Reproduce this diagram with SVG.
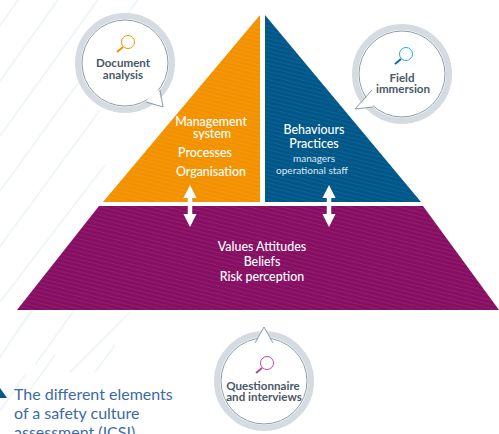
<svg xmlns="http://www.w3.org/2000/svg" width="499" height="434" viewBox="0 0 499 434">
<style>
text{font-family:"Lato","Open Sans","Liberation Sans",sans-serif;text-anchor:middle}
.w{fill:#fff;font-size:12.4px;font-weight:500}
.l{fill:#4a5866;font-size:11.6px;font-weight:700}
.ring{fill:none;stroke:#d5dbe0;stroke-width:6}
.bub{fill:#fff;stroke:#8b9ca6;stroke-width:1}
.bg{stroke:#f0f6f8;stroke-width:2;fill:none}
.arr{fill:none;stroke:#fff;stroke-width:4.5}
.ln{fill:none;stroke:#8b9ca6;stroke-width:1}
.cap{fill:#3c6aa5;font-size:16px;text-anchor:start}
.sub{fill:#dfe8ef;font-size:10px}
</style>
<defs>
<pattern id="h" width="8" height="4" patternUnits="userSpaceOnUse" patternTransform="rotate(14)"><rect width="8" height="1" fill="#fff" fill-opacity=".06"/></pattern>
<marker id="a" markerWidth="3.2" markerHeight="3" refX="1.2" refY="1.5" orient="auto-start-reverse"><path d="M0 0L3 1.5L0 3Z" fill="#fff"/></marker>
</defs>
<g class="bg">
<path d="M-10 40L25 -10M-10 95L65 -10M-10 150L105 -10M-10 205L145 -10M-10 260L100 110M-10 315L105 165M8 345L100 215M35 365L110 260M70 372L130 312M-10 372L30 312"/>
<path d="M-10 425L25 375M30 390L55 355M95 372L115 345"/>
</g>
<g id="orange"><path d="M260 15V202H103Z" fill="#f39200"/><path d="M260 15V202H103Z" fill="url(#h)"/>
<text class="w" x="211" y="126">Management</text><text class="w" x="212" y="138">system</text><text class="w" x="205" y="157">Processes</text><text class="w" x="211" y="176">Organisation</text></g>
<g id="blue"><path d="M265 15L421 202H265Z" fill="#00578a"/><path d="M265 15L421 202H265Z" fill="url(#h)"/>
<text class="w" x="314" y="134">Behaviours</text><text class="w" x="314" y="148">Practices</text><text class="sub" x="314" y="162">managers</text><text class="sub" x="312" y="174">operational staff</text></g>
<g id="purple"><path d="M99 206H423L499 310H17Z" fill="#870f63"/><path d="M99 206H423L499 310H17Z" fill="url(#h)"/>
<text class="w" x="262" y="251">Values Attitudes</text><text class="w" x="262" y="266">Beliefs</text><text class="w" x="262" y="281">Risk perception</text></g>
<g id="connectors">
<path class="arr" d="M190 193V219" marker-start="url(#a)" marker-end="url(#a)"/>
<path class="arr" d="M329 193V219" marker-start="url(#a)" marker-end="url(#a)"/>
</g>
<g id="document-analysis">
<circle class="ring" cx="125" cy="63" r="47"/>
<circle class="bub" cx="125" cy="63" r="43"/>
<path d="M158 88L163 107L146 101Z" fill="#fff"/><path d="M160 90L163 107L146 102" class="ln"/>
<circle cx="128" cy="42" r="6.5" fill="none" stroke="#f39200" stroke-width="1"/><path d="M123 47L117 52" stroke="#f39200" stroke-width="2"/>
<text class="l" x="123" y="67">Document</text><text class="l" x="123" y="79">analysis</text></g>
<g id="field-immersion">
<circle class="ring" cx="402" cy="74" r="47"/>
<circle class="bub" cx="402" cy="74" r="43"/>
<path d="M374 90L355 109L373 107Z" fill="#fff"/><path d="M372 90L355 109L373 107" class="ln"/>
<circle cx="406" cy="54" r="6.5" fill="none" stroke="#29abe2" stroke-width="1"/><path d="M401 59L395 64" stroke="#0a6ea8" stroke-width="2"/>
<text class="l" x="402" y="82">Field</text><text class="l" x="403" y="93">immersion</text></g>
<g id="questionnaire">
<circle class="ring" cx="264" cy="381" r="47"/>
<circle class="bub" cx="264" cy="381" r="43"/>
<path d="M256 341L264 327L272 341Z" fill="#fff"/><path d="M255 343L264 327L273 343" class="ln"/>
<circle cx="267" cy="363" r="6.5" fill="none" stroke="#b84a9e" stroke-width="1"/><path d="M262 368L256 373" stroke="#b84a9e" stroke-width="2"/>
<text class="l" x="263" y="390">Questionnaire</text><text class="l" x="264" y="401">and interviews</text></g>
<g id="caption">
<path d="M0 388L7 398H-6Z" fill="#00578a"/>
<text class="cap" x="14" y="400">The different elements</text>
<text class="cap" x="14" y="419">of a safety culture</text>
<text class="cap" x="14" y="438">assessment (ICSI)</text>
</g>
</svg>
